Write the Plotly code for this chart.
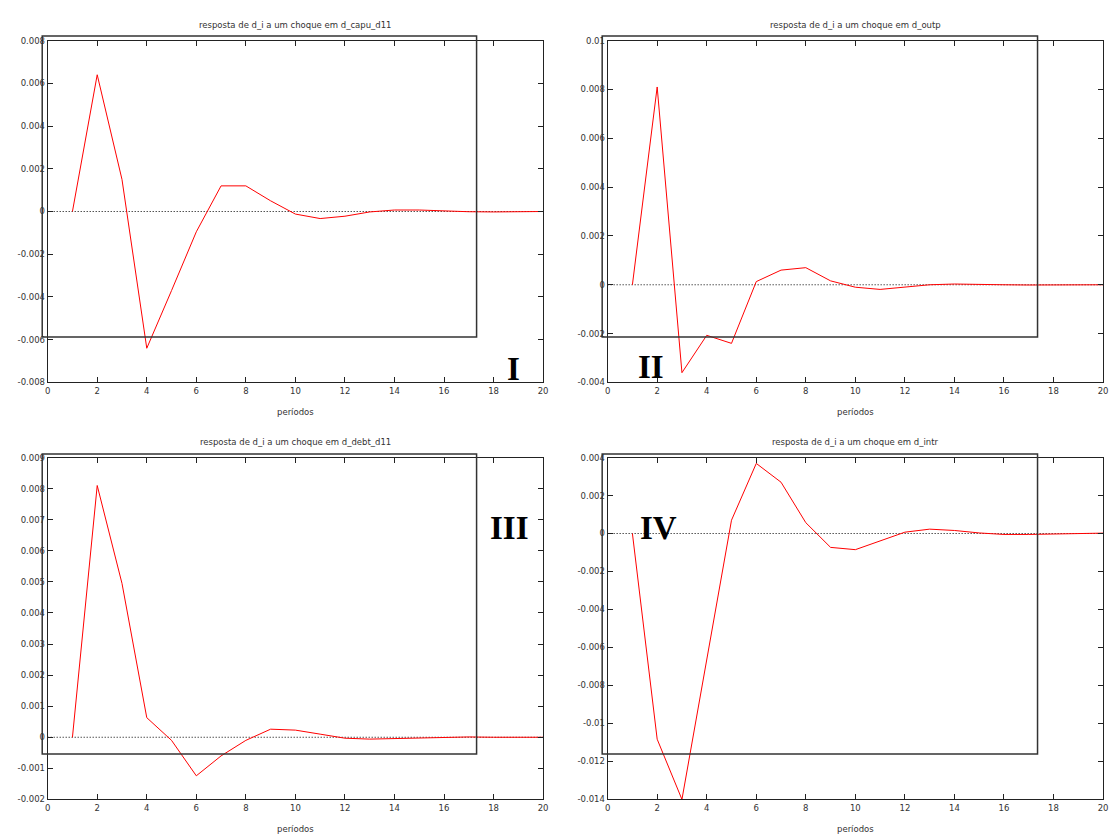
import plotly.graph_objects as go

W, H = 1117, 839

periods = list(range(1, 21))

titles = [
    "resposta de d_i a um choque em d_capu_d11",
    "resposta de d_i a um choque em d_outp",
    "resposta de d_i a um choque em d_debt_d11",
    "resposta de d_i a um choque em d_intr",
]

resp_capu = [0.0, 0.0064, 0.0015, -0.0064, -0.0037, -0.00095, 0.0012, 0.0012, 0.0005, -0.00012,
             -0.00033, -0.00022, -0.00002, 0.00007, 0.00007, 0.00002, -0.00001, -0.00002, -0.00001, 0.0]
resp_outp = [0.0, 0.0081, -0.0036, -0.00207, -0.0024, 0.00013, 0.0006, 0.0007, 0.00016, -0.0001,
             -0.00019, -0.0001, 0.0, 0.00003, 0.00003, 0.0, -0.00001, -0.00001, 0.0, 0.0]
resp_debt = [0.0, 0.0081, 0.00495, 0.00063, -0.0001, -0.00124, -0.0006, -0.0001, 0.00026, 0.00023,
             0.0001, -0.00003, -0.00006, -0.00004, -0.00001, 0.00001, 0.00001, 0.0, 0.0, 0.0]
resp_intr = [0.0, -0.01083, -0.014, -0.0066, 0.0007, 0.00369, 0.0027, 0.00057, -0.00073, -0.00085,
             -0.0004, 0.00007, 0.00023, 0.00016, 0.00003, -0.00005, -0.00005, -0.00003, 0.0, 0.00002]

series = [resp_capu, resp_outp, resp_debt, resp_intr]

x_ticks = [0, 2, 4, 6, 8, 10, 12, 14, 16, 18, 20]
y_ticks = [
    [-0.008, -0.006, -0.004, -0.002, 0, 0.002, 0.004, 0.006, 0.008],
    [-0.004, -0.002, 0, 0.002, 0.004, 0.006, 0.008, 0.01],
    [-0.002, -0.001, 0, 0.001, 0.002, 0.003, 0.004, 0.005, 0.006, 0.007, 0.008, 0.009],
    [-0.014, -0.012, -0.01, -0.008, -0.006, -0.004, -0.002, 0, 0.002, 0.004],
]
y_ticktext = [
    ["-0.008", "-0.006", "-0.004", "-0.002", "0", "0.002", "0.004", "0.006", "0.008"],
    ["-0.004", "-0.002", "0", "0.002", "0.004", "0.006", "0.008", "0.01"],
    ["-0.002", "-0.001", "0", "0.001", "0.002", "0.003", "0.004", "0.005", "0.006", "0.007", "0.008", "0.009"],
    ["-0.014", "-0.012", "-0.01", "-0.008", "-0.006", "-0.004", "-0.002", "0", "0.002", "0.004"],
]
y_ranges = [[-0.008, 0.008], [-0.004, 0.01], [-0.002, 0.009], [-0.014, 0.004]]
numerals = ["I", "II", "III", "IV"]

# pixel layout of each panel: (left, right, top, bottom)
panels_px = [(45, 544, 36, 382), (609, 1108, 36, 382), (45, 544, 458, 804), (609, 1108, 458, 804)]
rects_px = [(39.5, 477, 31.5, 336), (603.5, 1042, 31.5, 336), (39.5, 477, 454.5, 758), (603.5, 1042, 454.5, 758)]
numeral_px = [(514, 368), (653, 366), (510, 529), (660, 529)]

def px_x(p):
    return p / W

def px_y(p):
    return 1 - p / H

fig = go.Figure()
font_fam = "DejaVu Sans"
annotations = []
shapes = []

for i in range(4):
    l, r, t, b = panels_px[i]
    xa = "x" if i == 0 else f"x{i+1}"
    ya = "y" if i == 0 else f"y{i+1}"
    fig.add_trace(go.Scatter(x=periods, y=series[i], mode="lines",
                             line=dict(color="#ff0000", width=1),
                             xaxis=xa, yaxis=ya, showlegend=False, hoverinfo="skip"))
    xkey = "xaxis" if i == 0 else f"xaxis{i+1}"
    ykey = "yaxis" if i == 0 else f"yaxis{i+1}"
    fig.layout[xkey] = dict(domain=[px_x(l), px_x(r)], range=[0, 20], anchor=ya,
                            tickvals=x_ticks, ticktext=[str(v) for v in x_ticks],
                            ticks="inside", ticklen=5, tickcolor="#222",
                            showline=True, linecolor="#222", linewidth=1, mirror="ticks",
                            showgrid=False, zeroline=False,
                            tickfont=dict(family=font_fam, size=8.5, color="#333"))
    fig.layout[ykey] = dict(domain=[px_y(b), px_y(t)], range=y_ranges[i], anchor=xa,
                            tickvals=y_ticks[i], ticktext=y_ticktext[i],
                            ticks="inside", ticklen=5, tickcolor="#222",
                            showline=True, linecolor="#222", linewidth=1, mirror="ticks",
                            showgrid=False, zeroline=False,
                            tickfont=dict(family=font_fam, size=8.5, color="#333"))
    # dotted zero line
    shapes.append(dict(type="line", xref=xa, yref=ya, x0=0, x1=20, y0=0, y1=0,
                       line=dict(color="black", width=1, dash="1px,2px"), layer="below"))
    # title
    annotations.append(dict(text=titles[i], xref="paper", yref="paper",
                            x=px_x((l + r) / 2), y=px_y(t - 16), xanchor="center", yanchor="middle",
                            showarrow=False, font=dict(family=font_fam, size=8.5, color="#333")))
    # x axis title
    annotations.append(dict(text="períodos", xref="paper", yref="paper",
                            x=px_x((l + r) / 2), y=px_y(b + 30), xanchor="center", yanchor="middle",
                            showarrow=False, font=dict(family=font_fam, size=8.5, color="#333")))
    # overlaid rectangle
    rl, rr, rt, rb = rects_px[i]
    shapes.append(dict(type="rect", xref="paper", yref="paper",
                       x0=px_x(rl), x1=px_x(rr), y0=px_y(rb), y1=px_y(rt),
                       line=dict(color="#333", width=1.5), fillcolor="rgba(0,0,0,0)", layer="above"))
    # roman numeral
    nx, ny = numeral_px[i]
    annotations.append(dict(text="<b>" + numerals[i] + "</b>", xref="paper", yref="paper",
                            x=px_x(nx), y=px_y(ny), xanchor="center", yanchor="middle",
                            showarrow=False, font=dict(family="Liberation Serif", size=33, color="black")))

fig.update_layout(width=W, height=H, margin=dict(l=0, r=0, t=0, b=0),
                  paper_bgcolor="white", plot_bgcolor="white",
                  annotations=annotations, shapes=shapes, showlegend=False)

fig.write_html("out.html", config={"displayModeBar": False},
               post_script="document.body.style.margin='0px';document.body.style.overflow='hidden';")
